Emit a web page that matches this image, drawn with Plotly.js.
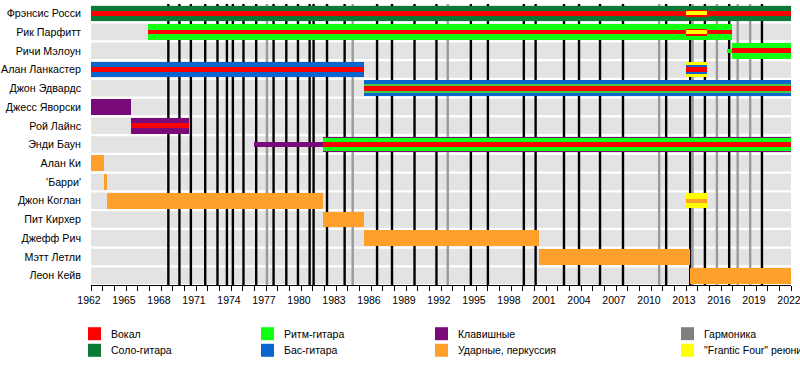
<!DOCTYPE html>
<html><head><meta charset="utf-8">
<script src="https://cdn.plot.ly/plotly-3.0.1.min.js"></script>
<style>html,body{margin:0;padding:0;background:#fff}#chart{width:800px;height:365px}</style>
</head><body><div id="chart"></div>
<script>
// ---------------- DATA ----------------
const members = ['Фрэнсис Росси','Рик Парфитт','Ричи Мэлоун','Алан Ланкастер','Джон Эдвардс','Джесс Яворски','Рой Лайнс','Энди Баун','Алан Ки',"'Барри'",'Джон Коглан','Пит Кирхер','Джефф Рич','Мэтт Летли','Леон Кейв'];
const yearTicks = [1962,1965,1968,1971,1974,1977,1980,1983,1986,1989,1992,1995,1998,2001,2004,2007,2010,2013,2016,2019,2022];
const yearTickLabels = ['1962','1965','1968','1971','1974','1977','1980','1983','1986','1989','1992','1995','1998','2001','2004','2007','2010','2013','2016','2019','2022'];
const timelineStart = 1962, timelineEnd = 2022;

// segments: [member index, start year, end year]
const leadGuitar   = [[0,1962,2022]];
const rhythmGuitar = [[1,1966.9,2016.9],[2,2016.9,2022]];
const rhythmGuitarShort = [[2,2016.5,2016.9]];
const rhythmGuitarEdwards = [[4,1985.4,2022]];
const rhythmGuitarBown = [[7,1981.85,2022]];
const bass         = [[3,1962,1985.4],[4,1985.4,2022]];
const bassReunion  = [[3,2013,2014.8]];
const keyboards    = [[5,1962,1965.4],[6,1965.4,1970.4],[7,1981.85,2022]];
const keyboardsShort = [[7,1976,1981.85]];
const drums        = [[8,1962,1963.1],[9,1963.1,1963.4],[10,1963.4,1981.85],[11,1981.85,1985.4],[12,1985.4,2000.4],[13,2000.4,2013.35],[14,2013.35,2022]];
const drumsReunion = [[10,2013,2014.8]];
const vocals       = [[0,1962,2022],[1,1966.9,2016.9],[2,2016.9,2022],[3,1962,1985.4],[3,2013,2014.8],[4,1985.4,2022],[6,1965.4,1970.4],[7,1981.85,2022]];
const vocalsReunion = [[0,2013,2014.8],[1,2013,2014.8]];
const franticFour  = [[3,2013,2014.8],[10,2013,2014.8]];
const franticFourThin = [[0,2013,2014.8],[1,2013,2014.8]];

// release lines
const studioAlbums = [1968.63,1969.58,1970.56,1971.79,1972.84,1973.65,1974.16,1975.07,1976.16,1977.65,1978.74,1979.74,1980.74,1981.08,1982.23,1983.74,1986.52,1987.8,1989.73,1991.61,1994.56,1996.02,1999.1,2000.11,2002.54,2003.83,2005.63,2007.6,2011.3,2013.36,2014.62,2016.7,2019.51];
const otherReleases = [1977.08,1984.43,1992.58,2010.7,2013.56,2015.65,2017.43,2018.5];

const legendLabels = ['Вокал','Соло-гитара','Ритм-гитара','Бас-гитара','Клавишные','Ударные, перкуссия','Гармоника','"Frantic Four" реюнион'];

// ---------------- STYLE ----------------
const C = {
  red:'#ff0000', lead:'#0b7a37', rhythm:'#11ff11', rhythm2:'#45c845', bass:'#0a66cc',
  keys:'#7a0a7a', drums:'#ffa02a', harm:'#9a9a9a', ff:'#ffff00', rowbg:'#e3e3e3'
};
const FONT = 'Liberation Sans, Arial, sans-serif';

function barTrace(segs, color, width){
  return {
    type:'bar', orientation:'h',
    y: segs.map(s=>s[0]),
    base: segs.map(s=>s[1]),
    x: segs.map(s=>s[2]-s[1]),
    width: width,
    marker:{color:color, line:{width:0}},
    hoverinfo:'skip', showlegend:false
  };
}

const traces = [
  barTrace(leadGuitar, C.lead, 0.84),
  barTrace(rhythmGuitar, C.rhythm, 0.84),
  barTrace(bass, C.bass, 0.84),
  barTrace(keyboards, C.keys, 0.84),
  barTrace(drums, C.drums, 0.84),
  barTrace(franticFour, C.ff, 0.82),
  barTrace(rhythmGuitarBown, C.rhythm, 0.67),
  barTrace(rhythmGuitarEdwards, C.rhythm2, 0.48),
  barTrace(bassReunion, C.bass, 0.48),
  barTrace(drumsReunion, C.drums, 0.22),
  barTrace(keyboardsShort, C.keys, 0.22),
  barTrace(rhythmGuitarShort, C.rhythm, 0.22),
  barTrace(vocals, C.red, 0.25),
  barTrace(vocalsReunion, C.red, 0.37),
  barTrace(franticFourThin, C.ff, 0.22)
];

const ML = 91, MR = 9, MT = 4, MB = 80;
const PW = 800 - ML - MR, PH = 365 - MT - MB;
const px = v => (v - ML) / PW;
const py = v => (365 - MB - v) / PH;
const yTop = -0.5, yBottom = members.length - 0.5;

const shapes = [];
// grey row bands (drawn first in the subplot "between" layer, under the release lines)
members.forEach((m, i) => shapes.push({type:'rect', xref:'x', yref:'y', x0:timelineStart, x1:timelineEnd, y0:i-0.44, y1:i+0.44, fillcolor:C.rowbg, line:{width:0}, layer:'between'}));
// release lines (between row bands and bars)
studioAlbums.forEach(x => shapes.push({type:'line', xref:'x', yref:'y', x0:x, x1:x, y0:yTop, y1:yBottom, layer:'between', line:{color:'#000', width:2.4}}));
otherReleases.forEach(x => shapes.push({type:'line', xref:'x', yref:'y', x0:x, x1:x, y0:yTop, y1:yBottom, layer:'between', line:{color:C.harm, width:2.4}}));

const legendColors = [C.red, C.lead, C.rhythm, C.bass, C.keys, C.drums, '#808080', C.ff];
const colSw = [88, 261, 435, 681];
const colTx = [110, 283, 457, 703];
const rowCy = [333.7, 350.3];
const annotations = [];
legendLabels.forEach((lab, i) => {
  const col = Math.floor(i/2), row = i % 2;
  const cy = rowCy[row];
  shapes.push({type:'rect', xref:'paper', yref:'paper', x0:px(colSw[col]), x1:px(colSw[col]+13), y0:py(cy-6.5), y1:py(cy+6.5), fillcolor:legendColors[i], line:{width:0}, layer:'above'});
  annotations.push({xref:'paper', yref:'paper', x:px(colTx[col]-1), y:py(cy), xanchor:'left', yanchor:'middle', text:lab, showarrow:false, font:{family:FONT, size:10.5, color:'#000'}});
});

const layout = {
  width:800, height:365,
  margin:{l:ML, r:MR, t:MT, b:MB, pad:0},
  paper_bgcolor:'#fff', plot_bgcolor:'#fff',
  barmode:'overlay', bargap:0,
  showlegend:false,
  font:{family:FONT, size:10.5, color:'#000'},
  xaxis:{
    range:[timelineStart,timelineEnd], tickmode:'array', tickvals:yearTicks, ticktext:yearTickLabels,
    ticks:'outside', ticklen:5, tickcolor:'#000', tickwidth:1,
    minor:{dtick:1, tick0:1962, ticks:'outside', ticklen:5, tickcolor:'#000', tickwidth:1, showgrid:false},
    showgrid:false, zeroline:false, showline:true, linecolor:'#000', linewidth:1,
    ticklabelshift:-2, ticklabeloverflow:'allow',
    tickfont:{family:FONT, size:10.5, color:'#000'}, fixedrange:true
  },
  yaxis:{
    range:[yBottom, yTop], tickmode:'array',
    tickvals:members.map((m,i)=>i), ticktext:members,
    ticks:'', showgrid:false, zeroline:false, showline:false,
    ticklabelstandoff:9,
    tickfont:{family:FONT, size:10.7, color:'#000'}, fixedrange:true
  },
  shapes:shapes, annotations:annotations
};

Plotly.newPlot('chart', traces, layout, {staticPlot:true, displayModeBar:false});
</script></body></html>
